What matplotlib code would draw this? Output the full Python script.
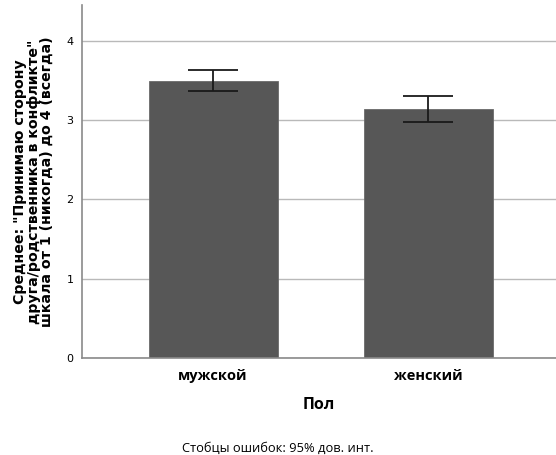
import numpy as np
import matplotlib
matplotlib.use("Agg")
import matplotlib.pyplot as plt

categories = ["мужской", "женский"]
means = [3.49, 3.14]
ci_low = [3.36, 2.98]
ci_high = [3.63, 3.30]

fig = plt.figure(figsize=(5.56, 4.55), dpi=100)
ax = fig.add_axes([82 / 556, 1 - 358 / 455, 474 / 556, 353 / 455])

x = np.arange(len(categories))
yerr = [np.array(means) - np.array(ci_low), np.array(ci_high) - np.array(means)]
ax.bar(x, means, width=0.6, color="#575757", edgecolor="#6a6a6a", linewidth=0.6, zorder=2)
ax.errorbar(x, means, yerr=yerr, fmt="none", ecolor="#1a1a1a", elinewidth=1.3,
            capsize=18, capthick=1.3, zorder=3)

ax.set_xlim(-0.609, 1.593)
ax.set_ylim(0, 4.45)
ax.set_yticks([0, 1, 2, 3, 4])
ax.set_yticklabels(["0", "1", "2", "3", "4"], fontsize=8)
ax.yaxis.grid(True, color="#b9b9b9", linewidth=1.0, zorder=0)
ax.set_axisbelow(True)
ax.tick_params(axis="y", length=0, pad=6)
ax.tick_params(axis="x", length=0, pad=8)
ax.set_xticks(x)
ax.set_xticklabels(categories, fontsize=10.5, fontweight="bold", family="Open Sans")

for side in ["top", "right"]:
    ax.spines[side].set_visible(False)
for side in ["left", "bottom"]:
    ax.spines[side].set_color("#8a8a8a")
    ax.spines[side].set_linewidth(1.2)

ax.set_ylabel('Среднее: "Принимаю сторону\nдруга/родственника в конфликте"\nшкала от 1 (никогда) до 4 (всегда)',
              fontsize=10.2, fontweight="bold", linespacing=0.95, labelpad=9)
ax.set_xlabel("Пол", fontsize=11.5, fontweight="bold", family="Open Sans", labelpad=10)

fig.text(0.5, 1 - 448 / 455, "Стобцы ошибок: 95% дов. инт.", ha="center", va="center",
         fontsize=9.3, family="Open Sans")

fig.savefig("out.png", dpi=100)
